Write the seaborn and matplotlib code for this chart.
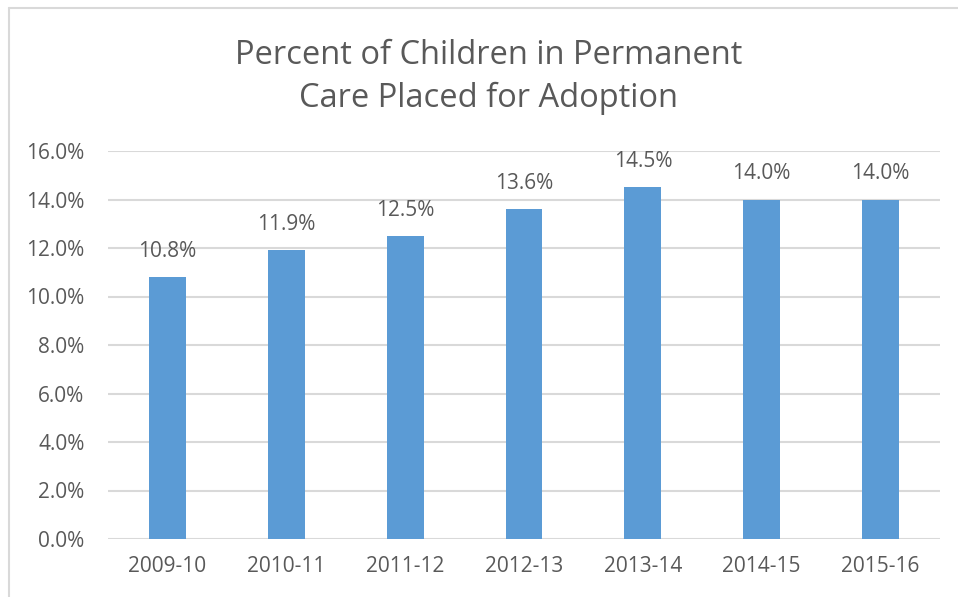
import seaborn as sns
import matplotlib.pyplot as plt
import pandas as pd
from matplotlib.lines import Line2D
from matplotlib.ticker import FuncFormatter

years = ["2009-10", "2010-11", "2011-12", "2012-13", "2013-14", "2014-15", "2015-16"]
percent = [10.8, 11.9, 12.5, 13.6, 14.5, 14.0, 14.0]
yticks = [0, 2, 4, 6, 8, 10, 12, 14, 16]

sns.set_style("white")
plt.rcParams["font.family"] = ["Open Sans", "DejaVu Sans"]

text_color = "#595959"
grid_color = "#d9d9d9"
bar_color = "#5b9bd5"

df = pd.DataFrame({"year": years, "percent": percent})

fig = plt.figure(figsize=(9.58, 5.97), dpi=100)
ax = fig.add_axes([108 / 958, 1 - 539 / 597, 832 / 958, 388 / 597])

sns.barplot(data=df, x="year", y="percent", color=bar_color, width=0.31,
            saturation=1, linewidth=0, ax=ax, zorder=3)

ax.set_ylim(0, 16)
ax.set_yticks(yticks)
ax.yaxis.set_major_formatter(FuncFormatter(lambda v, p: f"{v:.1f}%"))
ax.grid(axis="y", color=grid_color, linewidth=1.5, zorder=0)
ax.set_axisbelow(True)
for s in ax.spines.values():
    s.set_visible(False)
ax.tick_params(axis="both", length=0, labelsize=15, colors=text_color)
ax.tick_params(axis="y", pad=17)
ax.tick_params(axis="x", pad=12)
ax.set_xlabel("")
ax.set_ylabel("")

for i, v in enumerate(percent):
    ax.annotate(f"{v:.1f}%", (i, v), xytext=(0, 11), textcoords="offset points",
                ha="center", va="bottom", fontsize=15, color=text_color)

fig.text(0.51, 1 - 77 / 597, "Percent of Children in Permanent\nCare Placed for Adoption",
         ha="center", va="center", fontsize=23.5, color=text_color, linespacing=1.38)

# chart border (left and top edges visible)
fig.add_artist(Line2D([8.5 / 958, 8.5 / 958], [0, 1 - 7.5 / 597], transform=fig.transFigure,
                      color=grid_color, linewidth=1.5))
fig.add_artist(Line2D([8.5 / 958, 1], [1 - 7.5 / 597, 1 - 7.5 / 597], transform=fig.transFigure,
                      color=grid_color, linewidth=1.5))

fig.savefig("out.png", dpi=100)
plt.close()
